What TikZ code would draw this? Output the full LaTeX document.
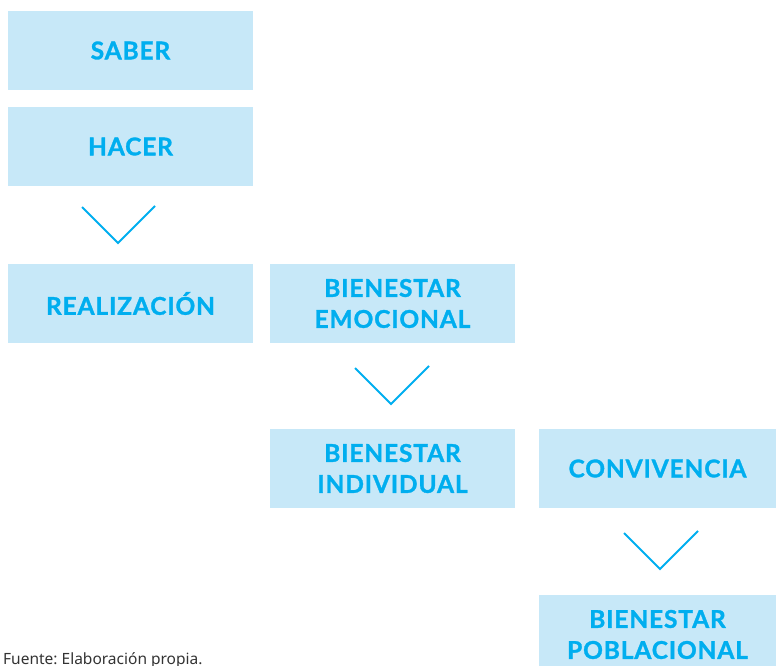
\documentclass[tikz,border=0pt]{standalone}
\usepackage{fontspec}
\setmainfont{Lato}
\newfontfamily\boxfont{Lato}[BoldFeatures={FakeBold=1.2,LetterSpace=3.5}]
\newfontfamily\capfont{Noto Sans}
\definecolor{boxfill}{HTML}{C7E8F8}
\definecolor{boxtext}{HTML}{00AEEF}
\definecolor{captext}{HTML}{333333}
\begin{document}
\begin{tikzpicture}[x=1pt,y=-1pt,
  box/.style={fill=boxfill,draw=none,inner sep=0pt,align=center,
    text=boxtext,font=\boxfont\fontsize{24.5}{31}\selectfont\bfseries,
    minimum height=79pt},
  wbox/.style={box,minimum width=245pt},
  nbox/.style={box,minimum width=237pt},
  chev/.style={draw=boxtext,line width=2pt,line join=miter}]
\useasboundingbox (0,0) rectangle (776,666);
\begin{scope}
\clip (0,0) rectangle (776,666);
\node[wbox] (saber) at (130.5,50.5) {SABER};
\node[wbox] (hacer) at (130.5,146.5) {HACER};
\node[wbox] (real) at (130.5,303.5) {REALIZACIÓN};
\node[wbox] (emoc) at (392.5,303.5) {BIENESTAR\\EMOCIONAL};
\node[wbox] (indiv) at (392.5,468.5) {BIENESTAR\\INDIVIDUAL};
\node[nbox] (conv) at (657.5,468.5) {CONVIVENCIA};
\node[nbox] (pobl) at (657.5,634.5) {BIENESTAR\\POBLACIONAL};
\end{scope}
\coordinate (c1a) at (82,207); \coordinate (c1b) at (118,243); \coordinate (c1c) at (155,206);
\draw[chev] (c1a) -- (c1b) -- (c1c);
\coordinate (c2a) at (355,368); \coordinate (c2b) at (391,404); \coordinate (c2c) at (429,366);
\draw[chev] (c2a) -- (c2b) -- (c2c);
\coordinate (c3a) at (624,533); \coordinate (c3b) at (660,569); \coordinate (c3c) at (698,531);
\draw[chev] (c3a) -- (c3b) -- (c3c);
\node[anchor=base west,inner sep=0pt,text=captext,font=\capfont\fontsize{15.5}{18}\selectfont] (cap) at (3,664.5) {\frenchspacing Fuente: Elaboración propia.};
\end{tikzpicture}
\end{document}
